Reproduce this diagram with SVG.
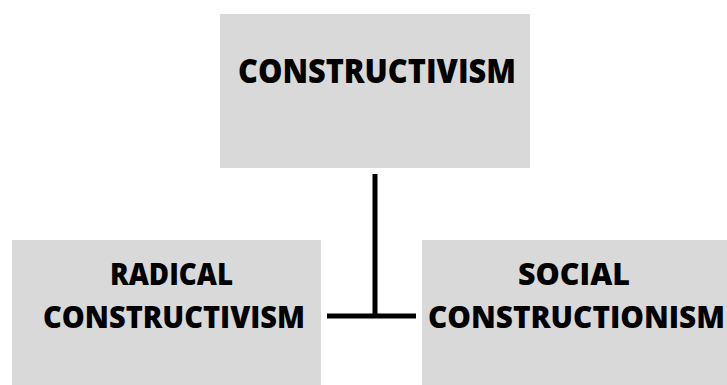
<svg xmlns="http://www.w3.org/2000/svg" width="727" height="385" viewBox="0 0 727 385">
<style>
.box{fill:#d9d9d9;}
.lbl{font-family:"Open Sans","Liberation Sans",sans-serif;font-weight:800;fill:#000;text-anchor:middle;}
.big{font-size:33px;}
.mid{font-size:30px;}
.conn{stroke:#000;stroke-width:5;fill:none;}
</style>
<rect width="727" height="385" fill="#fff"/>
<g id="connectors">
<line class="conn" x1="375" y1="174" x2="375" y2="317"/>
<line class="conn" x1="327" y1="316" x2="416" y2="316"/>
</g>
<g id="constructivism">
<rect class="box" x="220" y="14" width="310" height="154"/>
<text class="lbl big" x="377" y="83" textLength="278" lengthAdjust="spacingAndGlyphs">CONSTRUCTIVISM</text>
</g>
<g id="radical">
<rect class="box" x="12" y="240" width="309" height="145"/>
<text class="lbl mid" x="171.5" y="285" textLength="123" lengthAdjust="spacingAndGlyphs">RADICAL</text>
<text class="lbl mid" x="174" y="328" textLength="262" lengthAdjust="spacingAndGlyphs">CONSTRUCTIVISM</text>
</g>
<g id="social">
<rect class="box" x="422" y="240" width="305" height="145"/>
<text class="lbl mid" x="574" y="285" textLength="112" lengthAdjust="spacingAndGlyphs">SOCIAL</text>
<text class="lbl mid" x="576.5" y="328" textLength="297" lengthAdjust="spacingAndGlyphs">CONSTRUCTIONISM</text>
</g>
</svg>
